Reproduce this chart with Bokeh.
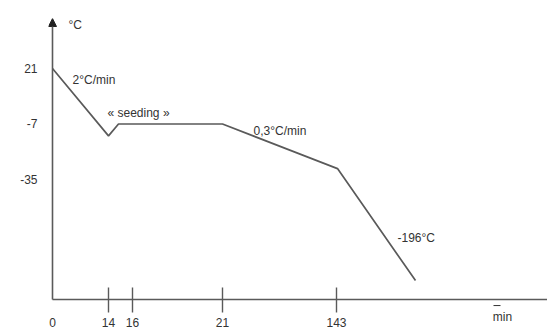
from bokeh.plotting import figure
from bokeh.models import FixedTicker, Arrow, NormalHead, ColumnDataSource
from bokeh.core.properties import value
from bokeh.embed import file_html
from bokeh.resources import INLINE

# Schematic (non-proportional) time axis: tick labels and their place along the drawn axis
time_labels = ["14", "16", "21", "143"]
time_pos = [28, 40, 85, 142]
time_unit_label = "min"
time_unit_pos = 225
origin_label = "0"

# Cooling curve (°C) at schematic time positions
curve_pos = [0, 28, 33, 85, 142.5, 181.5]
curve_temp = [21, -13, -7, -7, -29.5, -86]

temp_ticks = [21, -7, -35]
temp_labels = ["21", "-7", "-35"]

notes = ["2°C/min", "« seeding »", "0,3°C/min", "-196°C", "°C"]
note_x = [10, 27.5, 100.5, 172.5, 8]
note_y = [15.45, -1.7, -10.3, -64.3, 42.7]

# drawn axes (in data units of the schematic)
X_END = 247.5
Y_TOP = 46.23
Y_BOT = -111.19
AXIS_Y = -95.55        # level where the time axis is drawn
TICK_TOP, TICK_BOT = -89.5, -102.1
LABEL_Y = -107.15
UNIT_Y = -104.6

INK = "#5a5a5a"
TXT = "#333333"
FONT = "Liberation Sans"

p = figure(width=547, height=330, x_range=(-2, X_END), y_range=(Y_BOT, Y_TOP),
           output_backend="svg", toolbar_location=None,
           min_border_left=48, min_border_right=0, min_border_top=18, min_border_bottom=0)
p.grid.visible = False
p.outline_line_color = None
p.xaxis.visible = False

# y axis: labels only
p.yaxis.ticker = FixedTicker(ticks=temp_ticks)
p.yaxis.major_label_overrides = {k: v for k, v in zip(temp_ticks, temp_labels)}
p.yaxis.axis_line_color = None
p.yaxis.major_tick_line_color = None
p.yaxis.minor_tick_line_color = None
p.yaxis.major_label_standoff = 5
p.yaxis.major_label_text_font = FONT
p.yaxis.major_label_text_font_size = "12px"
p.yaxis.major_label_text_color = TXT

# time axis line, tick marks and labels
p.line([0, X_END], [AXIS_Y, AXIS_Y], line_color=INK, line_width=1.6)
p.segment(x0=time_pos, y0=[TICK_TOP] * len(time_pos), x1=time_pos, y1=[TICK_BOT] * len(time_pos),
          line_color=INK, line_width=1.4)
xl = ColumnDataSource(dict(x=[0] + time_pos, y=[LABEL_Y] * (len(time_pos) + 1),
                           t=[origin_label] + time_labels))
p.text(x="x", y="y", text="t", source=xl, text_font=value(FONT), text_font_size="12px",
       text_color=TXT, text_baseline="middle", text_align="center")
p.text(x=[time_unit_pos], y=[UNIT_Y], text=[time_unit_label], text_font=value(FONT),
       text_font_size="12px", text_color=TXT, text_baseline="middle", text_align="center")
# small dash above the unit label
p.segment(x0=[220.5], y0=[-98.6], x1=[224], y1=[-98.6], line_color=TXT, line_width=1)

# temperature axis with arrow head
p.add_layout(Arrow(end=NormalHead(size=8, fill_color="#222222", line_color="#222222"),
                   x_start=0, y_start=AXIS_Y, x_end=0, y_end=Y_TOP,
                   line_color=INK, line_width=1.6))

# the cooling curve
p.line(curve_pos, curve_temp, line_color=INK, line_width=1.7)

src = ColumnDataSource(dict(x=note_x, y=note_y, t=notes))
p.text(x="x", y="y", text="t", source=src, text_font=value(FONT), text_font_size="12px",
       text_color=TXT, text_baseline="middle", text_align="left")

open("out.html", "w").write(file_html(p, INLINE))
